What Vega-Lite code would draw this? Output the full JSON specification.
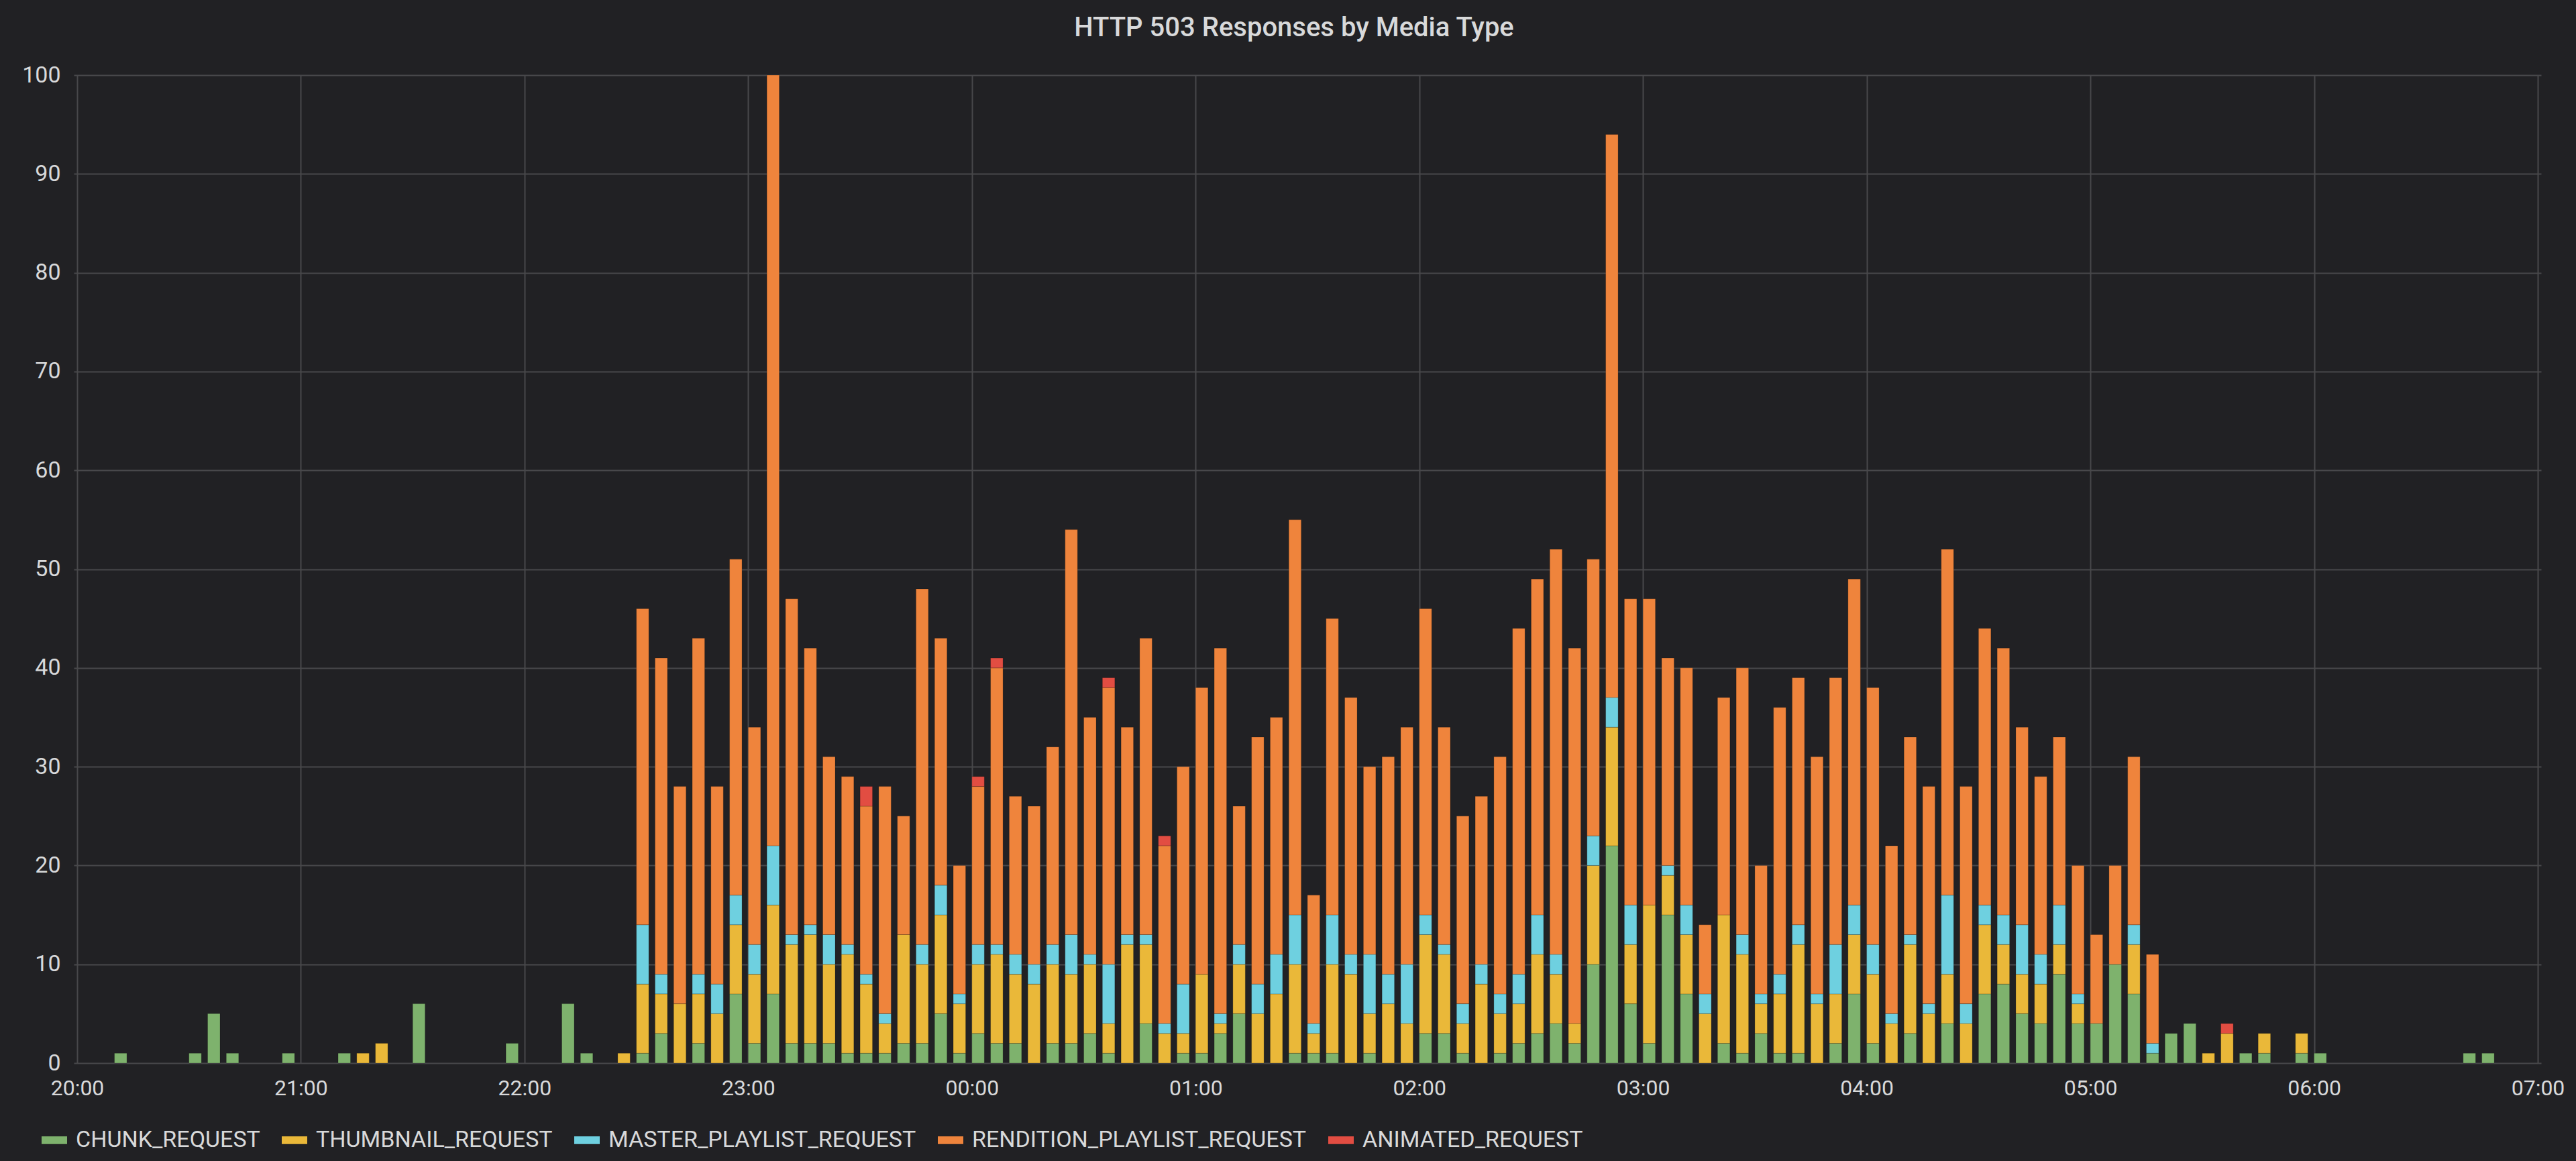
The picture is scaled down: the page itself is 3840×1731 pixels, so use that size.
{
  "$schema": "https://vega.github.io/schema/vega-lite/v6.json",
  "width": 3678,
  "height": 1473,
  "autosize": {"type": "none"},
  "padding": {"left": 110, "top": 112, "right": 52, "bottom": 146},
  "background": "#212124",
  "title": {
    "text": "HTTP 503 Responses by Media Type",
    "fontSize": 40,
    "fontWeight": 500,
    "font": "Roboto",
    "color": "#d8d9da",
    "offset": 33,
    "dx": -20,
    "anchor": "middle"
  },
  "datasets": {
    "types": [
      {"type": "CHUNK_REQUEST", "ord": 1},
      {"type": "THUMBNAIL_REQUEST", "ord": 2},
      {"type": "MASTER_PLAYLIST_REQUEST", "ord": 3},
      {"type": "RENDITION_PLAYLIST_REQUEST", "ord": 4},
      {"type": "ANIMATED_REQUEST", "ord": 5}
    ]
  },
  "data": {
    "values": [
      {"t": "2018-01-01T20:10", "CHUNK_REQUEST": 1},
      {"t": "2018-01-01T20:30", "CHUNK_REQUEST": 1},
      {"t": "2018-01-01T20:35", "CHUNK_REQUEST": 5},
      {"t": "2018-01-01T20:40", "CHUNK_REQUEST": 1},
      {"t": "2018-01-01T20:55", "CHUNK_REQUEST": 1},
      {"t": "2018-01-01T21:10", "CHUNK_REQUEST": 1},
      {"t": "2018-01-01T21:15", "THUMBNAIL_REQUEST": 1},
      {"t": "2018-01-01T21:20", "THUMBNAIL_REQUEST": 2},
      {"t": "2018-01-01T21:30", "CHUNK_REQUEST": 6},
      {"t": "2018-01-01T21:55", "CHUNK_REQUEST": 2},
      {"t": "2018-01-01T22:10", "CHUNK_REQUEST": 6},
      {"t": "2018-01-01T22:15", "CHUNK_REQUEST": 1},
      {"t": "2018-01-01T22:25", "THUMBNAIL_REQUEST": 1},
      {"t": "2018-01-01T22:30", "CHUNK_REQUEST": 1, "THUMBNAIL_REQUEST": 7, "MASTER_PLAYLIST_REQUEST": 6, "RENDITION_PLAYLIST_REQUEST": 32},
      {"t": "2018-01-01T22:35", "CHUNK_REQUEST": 3, "THUMBNAIL_REQUEST": 4, "MASTER_PLAYLIST_REQUEST": 2, "RENDITION_PLAYLIST_REQUEST": 32},
      {"t": "2018-01-01T22:40", "THUMBNAIL_REQUEST": 6, "RENDITION_PLAYLIST_REQUEST": 22},
      {"t": "2018-01-01T22:45", "CHUNK_REQUEST": 2, "THUMBNAIL_REQUEST": 5, "MASTER_PLAYLIST_REQUEST": 2, "RENDITION_PLAYLIST_REQUEST": 34},
      {"t": "2018-01-01T22:50", "THUMBNAIL_REQUEST": 5, "MASTER_PLAYLIST_REQUEST": 3, "RENDITION_PLAYLIST_REQUEST": 20},
      {"t": "2018-01-01T22:55", "CHUNK_REQUEST": 7, "THUMBNAIL_REQUEST": 7, "MASTER_PLAYLIST_REQUEST": 3, "RENDITION_PLAYLIST_REQUEST": 34},
      {"t": "2018-01-01T23:00", "CHUNK_REQUEST": 2, "THUMBNAIL_REQUEST": 7, "MASTER_PLAYLIST_REQUEST": 3, "RENDITION_PLAYLIST_REQUEST": 22},
      {"t": "2018-01-01T23:05", "CHUNK_REQUEST": 7, "THUMBNAIL_REQUEST": 9, "MASTER_PLAYLIST_REQUEST": 6, "RENDITION_PLAYLIST_REQUEST": 78},
      {"t": "2018-01-01T23:10", "CHUNK_REQUEST": 2, "THUMBNAIL_REQUEST": 10, "MASTER_PLAYLIST_REQUEST": 1, "RENDITION_PLAYLIST_REQUEST": 34},
      {"t": "2018-01-01T23:15", "CHUNK_REQUEST": 2, "THUMBNAIL_REQUEST": 11, "MASTER_PLAYLIST_REQUEST": 1, "RENDITION_PLAYLIST_REQUEST": 28},
      {"t": "2018-01-01T23:20", "CHUNK_REQUEST": 2, "THUMBNAIL_REQUEST": 8, "MASTER_PLAYLIST_REQUEST": 3, "RENDITION_PLAYLIST_REQUEST": 18},
      {"t": "2018-01-01T23:25", "CHUNK_REQUEST": 1, "THUMBNAIL_REQUEST": 10, "MASTER_PLAYLIST_REQUEST": 1, "RENDITION_PLAYLIST_REQUEST": 17},
      {"t": "2018-01-01T23:30", "CHUNK_REQUEST": 1, "THUMBNAIL_REQUEST": 7, "MASTER_PLAYLIST_REQUEST": 1, "RENDITION_PLAYLIST_REQUEST": 17, "ANIMATED_REQUEST": 2},
      {"t": "2018-01-01T23:35", "CHUNK_REQUEST": 1, "THUMBNAIL_REQUEST": 3, "MASTER_PLAYLIST_REQUEST": 1, "RENDITION_PLAYLIST_REQUEST": 23},
      {"t": "2018-01-01T23:40", "CHUNK_REQUEST": 2, "THUMBNAIL_REQUEST": 11, "RENDITION_PLAYLIST_REQUEST": 12},
      {"t": "2018-01-01T23:45", "CHUNK_REQUEST": 2, "THUMBNAIL_REQUEST": 8, "MASTER_PLAYLIST_REQUEST": 2, "RENDITION_PLAYLIST_REQUEST": 36},
      {"t": "2018-01-01T23:50", "CHUNK_REQUEST": 5, "THUMBNAIL_REQUEST": 10, "MASTER_PLAYLIST_REQUEST": 3, "RENDITION_PLAYLIST_REQUEST": 25},
      {"t": "2018-01-01T23:55", "CHUNK_REQUEST": 1, "THUMBNAIL_REQUEST": 5, "MASTER_PLAYLIST_REQUEST": 1, "RENDITION_PLAYLIST_REQUEST": 13},
      {"t": "2018-01-02T00:00", "CHUNK_REQUEST": 3, "THUMBNAIL_REQUEST": 7, "MASTER_PLAYLIST_REQUEST": 2, "RENDITION_PLAYLIST_REQUEST": 16, "ANIMATED_REQUEST": 1},
      {"t": "2018-01-02T00:05", "CHUNK_REQUEST": 2, "THUMBNAIL_REQUEST": 9, "MASTER_PLAYLIST_REQUEST": 1, "RENDITION_PLAYLIST_REQUEST": 28, "ANIMATED_REQUEST": 1},
      {"t": "2018-01-02T00:10", "CHUNK_REQUEST": 2, "THUMBNAIL_REQUEST": 7, "MASTER_PLAYLIST_REQUEST": 2, "RENDITION_PLAYLIST_REQUEST": 16},
      {"t": "2018-01-02T00:15", "THUMBNAIL_REQUEST": 8, "MASTER_PLAYLIST_REQUEST": 2, "RENDITION_PLAYLIST_REQUEST": 16},
      {"t": "2018-01-02T00:20", "CHUNK_REQUEST": 2, "THUMBNAIL_REQUEST": 8, "MASTER_PLAYLIST_REQUEST": 2, "RENDITION_PLAYLIST_REQUEST": 20},
      {"t": "2018-01-02T00:25", "CHUNK_REQUEST": 2, "THUMBNAIL_REQUEST": 7, "MASTER_PLAYLIST_REQUEST": 4, "RENDITION_PLAYLIST_REQUEST": 41},
      {"t": "2018-01-02T00:30", "CHUNK_REQUEST": 3, "THUMBNAIL_REQUEST": 7, "MASTER_PLAYLIST_REQUEST": 1, "RENDITION_PLAYLIST_REQUEST": 24},
      {"t": "2018-01-02T00:35", "CHUNK_REQUEST": 1, "THUMBNAIL_REQUEST": 3, "MASTER_PLAYLIST_REQUEST": 6, "RENDITION_PLAYLIST_REQUEST": 28, "ANIMATED_REQUEST": 1},
      {"t": "2018-01-02T00:40", "THUMBNAIL_REQUEST": 12, "MASTER_PLAYLIST_REQUEST": 1, "RENDITION_PLAYLIST_REQUEST": 21},
      {"t": "2018-01-02T00:45", "CHUNK_REQUEST": 4, "THUMBNAIL_REQUEST": 8, "MASTER_PLAYLIST_REQUEST": 1, "RENDITION_PLAYLIST_REQUEST": 30},
      {"t": "2018-01-02T00:50", "THUMBNAIL_REQUEST": 3, "MASTER_PLAYLIST_REQUEST": 1, "RENDITION_PLAYLIST_REQUEST": 18, "ANIMATED_REQUEST": 1},
      {"t": "2018-01-02T00:55", "CHUNK_REQUEST": 1, "THUMBNAIL_REQUEST": 2, "MASTER_PLAYLIST_REQUEST": 5, "RENDITION_PLAYLIST_REQUEST": 22},
      {"t": "2018-01-02T01:00", "CHUNK_REQUEST": 1, "THUMBNAIL_REQUEST": 8, "RENDITION_PLAYLIST_REQUEST": 29},
      {"t": "2018-01-02T01:05", "CHUNK_REQUEST": 3, "THUMBNAIL_REQUEST": 1, "MASTER_PLAYLIST_REQUEST": 1, "RENDITION_PLAYLIST_REQUEST": 37},
      {"t": "2018-01-02T01:10", "CHUNK_REQUEST": 5, "THUMBNAIL_REQUEST": 5, "MASTER_PLAYLIST_REQUEST": 2, "RENDITION_PLAYLIST_REQUEST": 14},
      {"t": "2018-01-02T01:15", "THUMBNAIL_REQUEST": 5, "MASTER_PLAYLIST_REQUEST": 3, "RENDITION_PLAYLIST_REQUEST": 25},
      {"t": "2018-01-02T01:20", "THUMBNAIL_REQUEST": 7, "MASTER_PLAYLIST_REQUEST": 4, "RENDITION_PLAYLIST_REQUEST": 24},
      {"t": "2018-01-02T01:25", "CHUNK_REQUEST": 1, "THUMBNAIL_REQUEST": 9, "MASTER_PLAYLIST_REQUEST": 5, "RENDITION_PLAYLIST_REQUEST": 40},
      {"t": "2018-01-02T01:30", "CHUNK_REQUEST": 1, "THUMBNAIL_REQUEST": 2, "MASTER_PLAYLIST_REQUEST": 1, "RENDITION_PLAYLIST_REQUEST": 13},
      {"t": "2018-01-02T01:35", "CHUNK_REQUEST": 1, "THUMBNAIL_REQUEST": 9, "MASTER_PLAYLIST_REQUEST": 5, "RENDITION_PLAYLIST_REQUEST": 30},
      {"t": "2018-01-02T01:40", "THUMBNAIL_REQUEST": 9, "MASTER_PLAYLIST_REQUEST": 2, "RENDITION_PLAYLIST_REQUEST": 26},
      {"t": "2018-01-02T01:45", "CHUNK_REQUEST": 1, "THUMBNAIL_REQUEST": 4, "MASTER_PLAYLIST_REQUEST": 6, "RENDITION_PLAYLIST_REQUEST": 19},
      {"t": "2018-01-02T01:50", "THUMBNAIL_REQUEST": 6, "MASTER_PLAYLIST_REQUEST": 3, "RENDITION_PLAYLIST_REQUEST": 22},
      {"t": "2018-01-02T01:55", "THUMBNAIL_REQUEST": 4, "MASTER_PLAYLIST_REQUEST": 6, "RENDITION_PLAYLIST_REQUEST": 24},
      {"t": "2018-01-02T02:00", "CHUNK_REQUEST": 3, "THUMBNAIL_REQUEST": 10, "MASTER_PLAYLIST_REQUEST": 2, "RENDITION_PLAYLIST_REQUEST": 31},
      {"t": "2018-01-02T02:05", "CHUNK_REQUEST": 3, "THUMBNAIL_REQUEST": 8, "MASTER_PLAYLIST_REQUEST": 1, "RENDITION_PLAYLIST_REQUEST": 22},
      {"t": "2018-01-02T02:10", "CHUNK_REQUEST": 1, "THUMBNAIL_REQUEST": 3, "MASTER_PLAYLIST_REQUEST": 2, "RENDITION_PLAYLIST_REQUEST": 19},
      {"t": "2018-01-02T02:15", "THUMBNAIL_REQUEST": 8, "MASTER_PLAYLIST_REQUEST": 2, "RENDITION_PLAYLIST_REQUEST": 17},
      {"t": "2018-01-02T02:20", "CHUNK_REQUEST": 1, "THUMBNAIL_REQUEST": 4, "MASTER_PLAYLIST_REQUEST": 2, "RENDITION_PLAYLIST_REQUEST": 24},
      {"t": "2018-01-02T02:25", "CHUNK_REQUEST": 2, "THUMBNAIL_REQUEST": 4, "MASTER_PLAYLIST_REQUEST": 3, "RENDITION_PLAYLIST_REQUEST": 35},
      {"t": "2018-01-02T02:30", "CHUNK_REQUEST": 3, "THUMBNAIL_REQUEST": 8, "MASTER_PLAYLIST_REQUEST": 4, "RENDITION_PLAYLIST_REQUEST": 34},
      {"t": "2018-01-02T02:35", "CHUNK_REQUEST": 4, "THUMBNAIL_REQUEST": 5, "MASTER_PLAYLIST_REQUEST": 2, "RENDITION_PLAYLIST_REQUEST": 41},
      {"t": "2018-01-02T02:40", "CHUNK_REQUEST": 2, "THUMBNAIL_REQUEST": 2, "RENDITION_PLAYLIST_REQUEST": 38},
      {"t": "2018-01-02T02:45", "CHUNK_REQUEST": 10, "THUMBNAIL_REQUEST": 10, "MASTER_PLAYLIST_REQUEST": 3, "RENDITION_PLAYLIST_REQUEST": 28},
      {"t": "2018-01-02T02:50", "CHUNK_REQUEST": 22, "THUMBNAIL_REQUEST": 12, "MASTER_PLAYLIST_REQUEST": 3, "RENDITION_PLAYLIST_REQUEST": 57},
      {"t": "2018-01-02T02:55", "CHUNK_REQUEST": 6, "THUMBNAIL_REQUEST": 6, "MASTER_PLAYLIST_REQUEST": 4, "RENDITION_PLAYLIST_REQUEST": 31},
      {"t": "2018-01-02T03:00", "CHUNK_REQUEST": 2, "THUMBNAIL_REQUEST": 14, "RENDITION_PLAYLIST_REQUEST": 31},
      {"t": "2018-01-02T03:05", "CHUNK_REQUEST": 15, "THUMBNAIL_REQUEST": 4, "MASTER_PLAYLIST_REQUEST": 1, "RENDITION_PLAYLIST_REQUEST": 21},
      {"t": "2018-01-02T03:10", "CHUNK_REQUEST": 7, "THUMBNAIL_REQUEST": 6, "MASTER_PLAYLIST_REQUEST": 3, "RENDITION_PLAYLIST_REQUEST": 24},
      {"t": "2018-01-02T03:15", "THUMBNAIL_REQUEST": 5, "MASTER_PLAYLIST_REQUEST": 2, "RENDITION_PLAYLIST_REQUEST": 7},
      {"t": "2018-01-02T03:20", "CHUNK_REQUEST": 2, "THUMBNAIL_REQUEST": 13, "RENDITION_PLAYLIST_REQUEST": 22},
      {"t": "2018-01-02T03:25", "CHUNK_REQUEST": 1, "THUMBNAIL_REQUEST": 10, "MASTER_PLAYLIST_REQUEST": 2, "RENDITION_PLAYLIST_REQUEST": 27},
      {"t": "2018-01-02T03:30", "CHUNK_REQUEST": 3, "THUMBNAIL_REQUEST": 3, "MASTER_PLAYLIST_REQUEST": 1, "RENDITION_PLAYLIST_REQUEST": 13},
      {"t": "2018-01-02T03:35", "CHUNK_REQUEST": 1, "THUMBNAIL_REQUEST": 6, "MASTER_PLAYLIST_REQUEST": 2, "RENDITION_PLAYLIST_REQUEST": 27},
      {"t": "2018-01-02T03:40", "CHUNK_REQUEST": 1, "THUMBNAIL_REQUEST": 11, "MASTER_PLAYLIST_REQUEST": 2, "RENDITION_PLAYLIST_REQUEST": 25},
      {"t": "2018-01-02T03:45", "THUMBNAIL_REQUEST": 6, "MASTER_PLAYLIST_REQUEST": 1, "RENDITION_PLAYLIST_REQUEST": 24},
      {"t": "2018-01-02T03:50", "CHUNK_REQUEST": 2, "THUMBNAIL_REQUEST": 5, "MASTER_PLAYLIST_REQUEST": 5, "RENDITION_PLAYLIST_REQUEST": 27},
      {"t": "2018-01-02T03:55", "CHUNK_REQUEST": 7, "THUMBNAIL_REQUEST": 6, "MASTER_PLAYLIST_REQUEST": 3, "RENDITION_PLAYLIST_REQUEST": 33},
      {"t": "2018-01-02T04:00", "CHUNK_REQUEST": 2, "THUMBNAIL_REQUEST": 7, "MASTER_PLAYLIST_REQUEST": 3, "RENDITION_PLAYLIST_REQUEST": 26},
      {"t": "2018-01-02T04:05", "THUMBNAIL_REQUEST": 4, "MASTER_PLAYLIST_REQUEST": 1, "RENDITION_PLAYLIST_REQUEST": 17},
      {"t": "2018-01-02T04:10", "CHUNK_REQUEST": 3, "THUMBNAIL_REQUEST": 9, "MASTER_PLAYLIST_REQUEST": 1, "RENDITION_PLAYLIST_REQUEST": 20},
      {"t": "2018-01-02T04:15", "THUMBNAIL_REQUEST": 5, "MASTER_PLAYLIST_REQUEST": 1, "RENDITION_PLAYLIST_REQUEST": 22},
      {"t": "2018-01-02T04:20", "CHUNK_REQUEST": 4, "THUMBNAIL_REQUEST": 5, "MASTER_PLAYLIST_REQUEST": 8, "RENDITION_PLAYLIST_REQUEST": 35},
      {"t": "2018-01-02T04:25", "THUMBNAIL_REQUEST": 4, "MASTER_PLAYLIST_REQUEST": 2, "RENDITION_PLAYLIST_REQUEST": 22},
      {"t": "2018-01-02T04:30", "CHUNK_REQUEST": 7, "THUMBNAIL_REQUEST": 7, "MASTER_PLAYLIST_REQUEST": 2, "RENDITION_PLAYLIST_REQUEST": 28},
      {"t": "2018-01-02T04:35", "CHUNK_REQUEST": 8, "THUMBNAIL_REQUEST": 4, "MASTER_PLAYLIST_REQUEST": 3, "RENDITION_PLAYLIST_REQUEST": 27},
      {"t": "2018-01-02T04:40", "CHUNK_REQUEST": 5, "THUMBNAIL_REQUEST": 4, "MASTER_PLAYLIST_REQUEST": 5, "RENDITION_PLAYLIST_REQUEST": 20},
      {"t": "2018-01-02T04:45", "CHUNK_REQUEST": 4, "THUMBNAIL_REQUEST": 4, "MASTER_PLAYLIST_REQUEST": 3, "RENDITION_PLAYLIST_REQUEST": 18},
      {"t": "2018-01-02T04:50", "CHUNK_REQUEST": 9, "THUMBNAIL_REQUEST": 3, "MASTER_PLAYLIST_REQUEST": 4, "RENDITION_PLAYLIST_REQUEST": 17},
      {"t": "2018-01-02T04:55", "CHUNK_REQUEST": 4, "THUMBNAIL_REQUEST": 2, "MASTER_PLAYLIST_REQUEST": 1, "RENDITION_PLAYLIST_REQUEST": 13},
      {"t": "2018-01-02T05:00", "CHUNK_REQUEST": 4, "RENDITION_PLAYLIST_REQUEST": 9},
      {"t": "2018-01-02T05:05", "CHUNK_REQUEST": 10, "RENDITION_PLAYLIST_REQUEST": 10},
      {"t": "2018-01-02T05:10", "CHUNK_REQUEST": 7, "THUMBNAIL_REQUEST": 5, "MASTER_PLAYLIST_REQUEST": 2, "RENDITION_PLAYLIST_REQUEST": 17},
      {"t": "2018-01-02T05:15", "CHUNK_REQUEST": 1, "MASTER_PLAYLIST_REQUEST": 1, "RENDITION_PLAYLIST_REQUEST": 9},
      {"t": "2018-01-02T05:20", "CHUNK_REQUEST": 3},
      {"t": "2018-01-02T05:25", "CHUNK_REQUEST": 4},
      {"t": "2018-01-02T05:30", "THUMBNAIL_REQUEST": 1},
      {"t": "2018-01-02T05:35", "THUMBNAIL_REQUEST": 3, "ANIMATED_REQUEST": 1},
      {"t": "2018-01-02T05:40", "CHUNK_REQUEST": 1},
      {"t": "2018-01-02T05:45", "CHUNK_REQUEST": 1, "THUMBNAIL_REQUEST": 2},
      {"t": "2018-01-02T05:55", "CHUNK_REQUEST": 1, "THUMBNAIL_REQUEST": 2},
      {"t": "2018-01-02T06:00", "CHUNK_REQUEST": 1},
      {"t": "2018-01-02T06:40", "CHUNK_REQUEST": 1},
      {"t": "2018-01-02T06:45", "CHUNK_REQUEST": 1}
    ]
  },
  "transform": [
    {
      "fold": [
        "CHUNK_REQUEST",
        "THUMBNAIL_REQUEST",
        "MASTER_PLAYLIST_REQUEST",
        "RENDITION_PLAYLIST_REQUEST",
        "ANIMATED_REQUEST"
      ],
      "as": ["type", "count"]
    },
    {"filter": "isValid(datum.count) && datum.count > 0"},
    {"lookup": "type", "from": {"data": {"name": "types"}, "key": "type", "fields": ["ord"]}}
  ],
  "mark": {"type": "bar", "width": 18.5, "xOffset": 9.25, "stroke": "rgba(0,0,0,0.2)", "strokeWidth": 1},
  "encoding": {
    "x": {
      "field": "t",
      "type": "temporal",
      "title": null,
      "scale": {
        "domain": [
          {"year": 2018, "month": 1, "date": 1, "hours": 20},
          {"year": 2018, "month": 1, "date": 2, "hours": 7}
        ],
        "nice": false
      },
      "axis": {
        "format": "%H:%M",
        "tickCount": 11,
        "labelFontSize": 32,
        "labelPadding": 22,
        "labelOverlap": false,
        "labelFlush": false
      }
    },
    "y": {
      "field": "count",
      "type": "quantitative",
      "stack": "zero",
      "title": null,
      "scale": {"domain": [0, 100], "nice": false},
      "axis": {
        "values": [0, 10, 20, 30, 40, 50, 60, 70, 80, 90, 100],
        "labelFontSize": 34,
        "labelPadding": 20
      }
    },
    "color": {
      "field": "type",
      "type": "nominal",
      "scale": {
        "domain": [
          "CHUNK_REQUEST",
          "THUMBNAIL_REQUEST",
          "MASTER_PLAYLIST_REQUEST",
          "RENDITION_PLAYLIST_REQUEST",
          "ANIMATED_REQUEST"
        ],
        "range": ["#7eb26d", "#eab839", "#6ed0e0", "#ef843c", "#e24d42"]
      },
      "legend": {
        "title": null,
        "orient": "none",
        "direction": "horizontal",
        "legendX": -48,
        "legendY": 1569,
        "symbolType": "M-1,-0.3L1,-0.3L1,0.3L-1,0.3Z",
        "symbolSize": 1444,
        "symbolStrokeWidth": 0,
        "symbolOpacity": 1,
        "labelFontSize": 34,
        "labelLimit": 0,
        "labelColor": "#d8d9da",
        "labelFont": "Roboto",
        "labelOffset": 13,
        "columnPadding": 32
      }
    },
    "order": {"field": "ord", "type": "quantitative"}
  },
  "config": {
    "view": {"stroke": null},
    "axis": {
      "domain": false,
      "ticks": false,
      "grid": true,
      "gridColor": "#48484b",
      "gridWidth": 2,
      "labelColor": "#d8d9da",
      "labelFont": "Roboto"
    }
  }
}
